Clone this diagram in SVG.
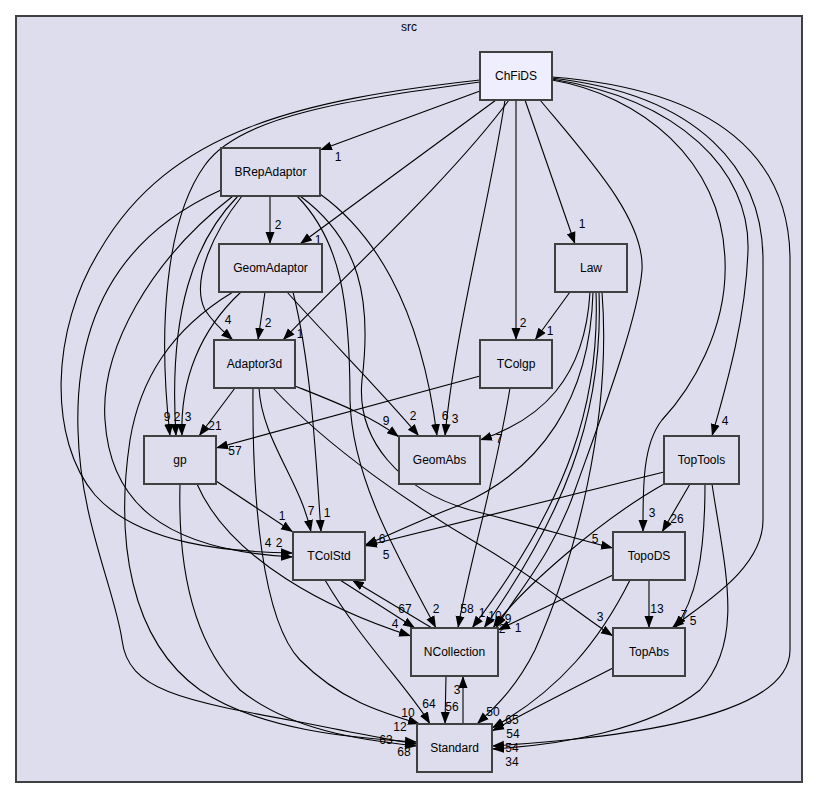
<svg xmlns="http://www.w3.org/2000/svg" width="819" height="799" viewBox="0 0 819 799">
<defs>
<marker id="ah" markerUnits="userSpaceOnUse" markerWidth="13" markerHeight="11" refX="12" refY="5" orient="auto">
<path d="M0,0.5 L12,5 L0,9.5 z" fill="#000"/>
</marker>
<style>
.n rect{fill:#ddddee;stroke:#404040;stroke-width:2}
.top rect{fill:#eeeeff}
text{font-family:"Liberation Sans",Arial,sans-serif;font-size:12px;fill:#000;text-anchor:middle}
#edges path{fill:none;stroke:#000;stroke-width:1.1;marker-end:url(#ah)}
</style>
</defs>
<rect x="0" y="0" width="819" height="799" fill="#fff"/>
<g id="cluster">
<rect x="16" y="16" width="786" height="766" fill="#ddddee" stroke="#404040" stroke-width="2"/>
<text x="409" y="31">src</text>
</g>
<g id="edges">
<path d="M480,91 L320,150"/>
<path d="M496,100 L300,244"/>
<path d="M509,100 C450,180 340,280 283,340"/>
<path d="M480,82 C350,100 240,115 205,165 C165,220 158,330 170,436"/>
<path d="M505,100 C490,200 455,330 445,436"/>
<path d="M516,100 L516,340"/>
<path d="M525,100 L575,244"/>
<path d="M540,100 C590,160 645,220 642,270 C638,320 600,420 575,490 C553,555 515,595 496,628"/>
<path d="M552,80 C640,95 722,160 725,260 C728,330 690,390 662,420 C642,445 643,490 643,532"/>
<path d="M552,79 C680,100 750,170 748,250 C746,320 725,390 712,436"/>
<path d="M552,78 C700,95 763,170 763,260 L763,520 C763,570 700,605 672,628"/>
<path d="M552,77 C720,90 790,160 790,260 L790,650 C790,725 580,740 492,746"/>
<path d="M480,80 C300,100 170,130 100,250 C50,330 48,440 95,495 C140,545 230,552 293,553"/>
<path d="M270,196 L270,244"/>
<path d="M242,196 C215,230 190,280 205,310 C215,325 225,333 233,340"/>
<path d="M238,196 C195,240 168,310 176,436"/>
<path d="M233,196 C150,260 100,350 105,420 C110,500 160,550 293,557"/>
<path d="M221,190 C110,240 75,330 78,430 C80,520 115,590 122,640 C128,690 180,700 300,722 C350,732 390,740 417,744"/>
<path d="M320,194 C370,230 420,300 437,436"/>
<path d="M297,196 C340,240 350,300 350,400 C352,480 400,560 436,628"/>
<path d="M300,196 C360,240 372,300 362,380 C356,440 400,490 470,510 C530,525 580,540 613,548"/>
<path d="M265,292 L258,340"/>
<path d="M241,292 C200,330 180,380 182,436"/>
<path d="M287,292 C330,340 380,390 419,436"/>
<path d="M293,292 C310,360 315,440 321,532"/>
<path d="M233,292 C170,330 140,380 130,440 C115,540 130,640 200,690 C260,730 350,738 417,742"/>
<path d="M235,388 L199,436"/>
<path d="M295,386 C330,400 370,415 399,437"/>
<path d="M259,388 C262,440 300,480 311,532"/>
<path d="M253,388 C252,500 262,620 300,660 C340,700 380,712 420,724"/>
<path d="M273,388 C330,450 420,510 480,545 C540,580 580,615 613,636"/>
<path d="M570,292 L535,340"/>
<path d="M590,292 C585,380 540,420 480,440"/>
<path d="M593,292 C590,400 540,470 460,505 C420,520 390,535 365,545"/>
<path d="M596,292 C600,400 570,500 472,628"/>
<path d="M599,292 C604,420 560,520 484,628"/>
<path d="M602,292 C612,420 575,560 535,650 C515,690 492,710 477,724"/>
<path d="M480,376 L216,448"/>
<path d="M510,388 C495,480 470,560 458,628"/>
<path d="M216,481 L293,532"/>
<path d="M197,484 C230,560 330,610 411,636"/>
<path d="M180,484 C178,560 190,640 240,690 C290,730 360,740 417,746"/>
<path d="M664,472 L365,546"/>
<path d="M690,484 L662,532"/>
<path d="M664,484 C600,520 520,590 493,628"/>
<path d="M705,484 C705,560 695,600 675,628"/>
<path d="M712,484 C725,570 745,640 700,690 C650,730 560,745 492,749"/>
<path d="M649,580 L649,628"/>
<path d="M613,575 L498,630"/>
<path d="M630,580 C600,640 560,690 492,728"/>
<path d="M613,668 C570,690 530,710 492,731"/>
<path d="M340,580 L415,628"/>
<path d="M432,628 L352,580"/>
<path d="M325,580 C360,640 410,690 430,724"/>
<path d="M446,676 L445,724"/>
<path d="M463,724 L463,676"/>
</g>
<g id="labels">
<text x="338" y="161">1</text>
<text x="318" y="244">1</text>
<text x="300" y="338">1</text>
<text x="167" y="421">9</text>
<text x="177" y="421">2</text>
<text x="188" y="421">3</text>
<text x="455" y="423">3</text>
<text x="523" y="327">2</text>
<text x="582" y="228">1</text>
<text x="495" y="620">10</text>
<text x="652" y="517">3</text>
<text x="725" y="425">4</text>
<text x="684" y="619">7</text>
<text x="512" y="752">54</text>
<text x="268" y="547">4</text>
<text x="279" y="547">2</text>
<text x="278" y="229">2</text>
<text x="228" y="324">4</text>
<text x="445" y="420">6</text>
<text x="436" y="613">2</text>
<text x="595" y="543">5</text>
<text x="268" y="327">2</text>
<text x="413" y="420">2</text>
<text x="327" y="517">1</text>
<text x="386" y="744">63</text>
<text x="215" y="430">21</text>
<text x="386" y="425">9</text>
<text x="311" y="515">7</text>
<text x="408" y="717">10</text>
<text x="600" y="621">3</text>
<text x="550" y="335">1</text>
<text x="499" y="443">7</text>
<text x="382" y="543">6</text>
<text x="482" y="617">1</text>
<text x="508" y="623">9</text>
<text x="493" y="716">50</text>
<text x="235" y="455">57</text>
<text x="467" y="613">58</text>
<text x="282" y="520">1</text>
<text x="395" y="628">4</text>
<text x="400" y="731">12</text>
<text x="386" y="559">5</text>
<text x="677" y="523">26</text>
<text x="502" y="633">2</text>
<text x="693" y="625">5</text>
<text x="512" y="766">34</text>
<text x="657" y="613">13</text>
<text x="518" y="632">1</text>
<text x="512" y="724">65</text>
<text x="513" y="738">54</text>
<text x="405" y="613">67</text>
<text x="429" y="708">64</text>
<text x="452" y="711">56</text>
<text x="457" y="694">3</text>
<text x="404" y="756">68</text>
</g>
<g id="ChFiDS" class="n top"><rect x="480" y="52" width="72" height="48"/><text x="516" y="80">ChFiDS</text></g>
<g id="BRepAdaptor" class="n"><rect x="221" y="148" width="99" height="48"/><text x="270.5" y="176">BRepAdaptor</text></g>
<g id="GeomAdaptor" class="n"><rect x="219" y="244" width="103" height="48"/><text x="270.5" y="272">GeomAdaptor</text></g>
<g id="Law" class="n"><rect x="555" y="244" width="72" height="48"/><text x="591" y="272">Law</text></g>
<g id="Adaptor3d" class="n"><rect x="214" y="340" width="81" height="48"/><text x="254.5" y="368">Adaptor3d</text></g>
<g id="TColgp" class="n"><rect x="480" y="340" width="72" height="48"/><text x="516" y="368">TColgp</text></g>
<g id="gp" class="n"><rect x="144" y="436" width="72" height="48"/><text x="180" y="464">gp</text></g>
<g id="GeomAbs" class="n"><rect x="399" y="436" width="81" height="48"/><text x="439.5" y="464">GeomAbs</text></g>
<g id="TopTools" class="n"><rect x="664" y="436" width="75" height="48"/><text x="701.5" y="464">TopTools</text></g>
<g id="TColStd" class="n"><rect x="293" y="532" width="72" height="48"/><text x="329" y="560">TColStd</text></g>
<g id="TopoDS" class="n"><rect x="613" y="532" width="72" height="48"/><text x="649" y="560">TopoDS</text></g>
<g id="NCollection" class="n"><rect x="411" y="628" width="87" height="48"/><text x="454.5" y="656">NCollection</text></g>
<g id="TopAbs" class="n"><rect x="613" y="628" width="72" height="48"/><text x="649" y="656">TopAbs</text></g>
<g id="Standard" class="n"><rect x="417" y="724" width="75" height="48"/><text x="454.5" y="752">Standard</text></g>
</svg>
